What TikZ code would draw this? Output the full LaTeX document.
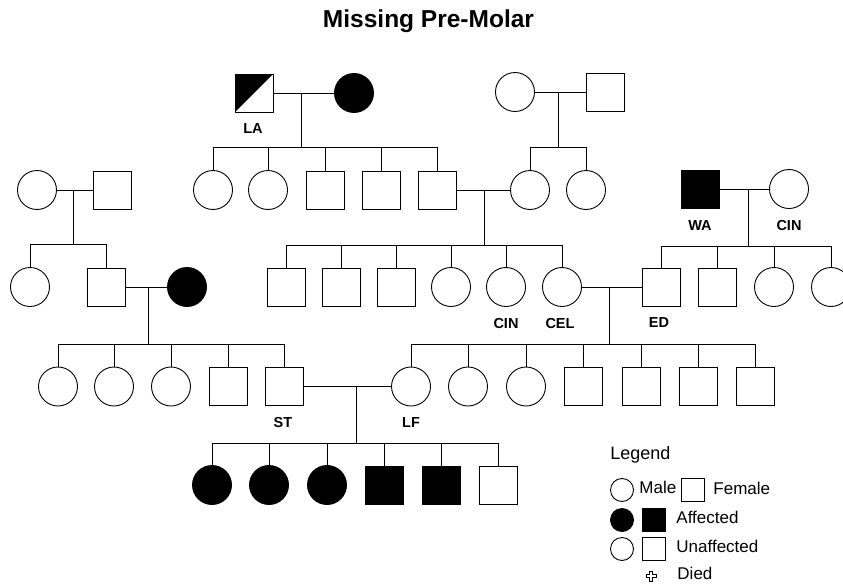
\documentclass[tikz,border=0pt]{standalone}
\usepackage{fontspec}
\setmainfont{Liberation Sans}
\begin{document}
\begin{tikzpicture}[x=1pt,y=-1pt,line width=0.9pt,
  sq/.style={draw,rectangle,minimum size=38pt,inner sep=0pt},
  sqf/.style={sq,fill=black},
  ci/.style={draw,circle,minimum size=39pt,inner sep=0pt},
  cif/.style={ci,fill=black},
  lsq/.style={draw,rectangle,minimum size=23.5pt,inner sep=0pt},
  lci/.style={draw,circle,minimum size=23pt,inner sep=0pt},
  lbl/.style={font=\fontsize{14.5}{17}\selectfont\bfseries,inner sep=0pt},
  leg/.style={font=\fontsize{17}{20}\selectfont,inner sep=0pt,anchor=base west},
  half/.style={sq,path picture={\fill[black] (path picture bounding box.north west) -- (path picture bounding box.north east) -- (path picture bounding box.south west) -- cycle;}}]
\useasboundingbox (0,0) rectangle (843,586);

% title
\node[font=\fontsize{24.5}{28}\selectfont\bfseries,anchor=base,inner sep=0pt] (title) at (428.5,28) {Missing Pre-Molar};

% generation 1
\node[half] (LA) at (254,93) {};
\node[cif] (LAw) at (354,93) {};
\node[lbl] (tLA) at (253,129) {LA};
\coordinate (m1) at (301,93);
\node[ci] (g1c) at (515,92) {};
\node[sq] (g1s) at (605,92) {};
\coordinate (m2) at (558,92);
\node[ci] (L1c) at (37,190) {};
\node[sq] (L1s) at (112,190) {};
\coordinate (m3) at (73,190);
\node[sqf] (WA) at (700,189) {};
\node[ci] (WAw) at (789,189) {};
\coordinate (m4) at (748,189);
\node[lbl] (tWA) at (700,226) {WA};
\node[lbl] (tCIN1) at (789,226) {CIN};

\draw (LA.east) -- (LAw.west);
\draw (g1c.east) -- (g1s.west);
\draw (L1c.east) -- (L1s.west);
\draw (WA.east) -- (WAw.west);

% LA children
\coordinate (s1) at (301,147);
\node[ci] (a1) at (213,190) {};
\node[ci] (a2) at (268,190) {};
\node[sq] (a3) at (325,190) {};
\node[sq] (a4) at (381,190) {};
\node[sq] (a5) at (437,190) {};
\draw (m1) -- (s1);
\draw (a1.north |- s1) -- (a5.north |- s1);
\foreach \n in {a1,a2,a3,a4,a5} \draw (\n.north) -- (\n.north |- s1);

% right top children
\coordinate (s2) at (558,147);
\node[ci] (b1) at (530,190) {};
\node[ci] (b2) at (586,190) {};
\draw (m2) -- (s2);
\draw (b1.north |- s2) -- (b2.north |- s2);
\foreach \n in {b1,b2} \draw (\n.north) -- (\n.north |- s2);

% a5 x b1
\draw (a5.east) -- (b1.west);
\coordinate (m5) at (484,190);
\coordinate (s5) at (484,245);
\draw (m5) -- (s5);
\node[sq] (c1) at (286,287) {};
\node[sq] (c2) at (341,287) {};
\node[sq] (c3) at (396,287) {};
\node[ci] (c4) at (451,287) {};
\node[ci] (c5) at (506,287) {};
\node[ci] (c6) at (562,287) {};
\node[lbl] (tCIN2) at (506,324) {CIN};
\node[lbl] (tCEL) at (560,324) {CEL};
\draw (c1.north |- s5) -- (c6.north |- s5);
\foreach \n in {c1,c2,c3,c4,c5,c6} \draw (\n.north) -- (\n.north |- s5);

% left family children
\coordinate (s3) at (73,244);
\draw (m3) -- (s3);
\node[ci] (d1) at (30,287) {};
\node[sq] (d2) at (106,287) {};
\node[cif] (d2w) at (187,287) {};
\draw (d1.north |- s3) -- (d2.north |- s3);
\foreach \n in {d1,d2} \draw (\n.north) -- (\n.north |- s3);
\draw (d2.east) -- (d2w.west);

% WA children
\coordinate (s4) at (748,246);
\draw (m4) -- (s4);
\node[sq] (e1) at (661,287) {};
\node[sq] (e2) at (717,287) {};
\node[ci] (e3) at (774,287) {};
\node[ci] (e4) at (831,287) {};
\node[lbl] (tED) at (659,323) {ED};
\draw (e1.north |- s4) -- (e4.north |- s4);
\foreach \n in {e1,e2,e3,e4} \draw (\n.north) -- (\n.north |- s4);

% CEL x ED
\draw (c6.east) -- (e1.west);
\coordinate (m6) at (609,287);
\coordinate (s6) at (609,344);
\draw (m6) -- (s6);
\node[ci] (f1) at (411,386.5) {};
\node[ci] (f2) at (468,386.5) {};
\node[ci] (f3) at (526,386.5) {};
\node[sq] (f4) at (583,386.5) {};
\node[sq] (f5) at (641,386.5) {};
\node[sq] (f6) at (698,386.5) {};
\node[sq] (f7) at (755,386.5) {};
\draw (f1.north |- s6) -- (f7.north |- s6);
\foreach \n in {f1,f2,f3,f4,f5,f6,f7} \draw (\n.north) -- (\n.north |- s6);

% d2 x d2w children
\coordinate (m7) at (148,287);
\coordinate (s7) at (148,344);
\draw (m7) -- (s7);
\node[ci] (g1) at (58,386.5) {};
\node[ci] (g2) at (114,386.5) {};
\node[ci] (g3) at (171,386.5) {};
\node[sq] (g4) at (228,386.5) {};
\node[sq] (g5) at (284,386.5) {};
\draw (g1.north |- s7) -- (g5.north |- s7);
\foreach \n in {g1,g2,g3,g4,g5} \draw (\n.north) -- (\n.north |- s7);
\node[lbl] (tST) at (283,423) {ST};
\node[lbl] (tLF) at (411,423) {LF};

% ST x LF
\draw (g5.east) -- (f1.west);
\coordinate (m8) at (356,386.5);
\coordinate (s8) at (356,443);
\draw (m8) -- (s8);
\node[cif] (h1) at (212,485) {};
\node[cif] (h2) at (269,485) {};
\node[cif] (h3) at (327,485) {};
\node[sqf] (h4) at (384,485) {};
\node[sqf] (h5) at (441,485) {};
\node[sq] (h6) at (498,485) {};
\draw (h1.north |- s8) -- (h6.north |- s8);
\foreach \n in {h1,h2,h3,h4,h5,h6} \draw (\n.north) -- (\n.north |- s8);

% legend
\node[leg,font=\fontsize{18}{21}\selectfont] (lgT) at (610,459) {Legend};
\node[lci] (lg1) at (622,490) {};
\node[leg] (lgM) at (639,493) {Male};
\node[lsq] (lg2) at (693,490) {};
\node[leg] (lgF) at (713,494) {Female};
\node[lci,fill=black] (lg3) at (622,520) {};
\node[lsq,fill=black] (lg4) at (654,520) {};
\node[leg] (lgA) at (676,523) {Affected};
\node[lci] (lg5) at (622,549) {};
\node[lsq] (lg6) at (654,549) {};
\node[leg] (lgU) at (676,552) {Unaffected};
\draw[line width=0.7pt,shift={(651,576)}] (-1.6,-5) -- (1.6,-5) -- (1.6,-1.6) -- (5,-1.6) -- (5,1.6) -- (1.6,1.6) -- (1.6,5) -- (-1.6,5) -- (-1.6,1.6) -- (-5,1.6) -- (-5,-1.6) -- (-1.6,-1.6) -- cycle;
\node[leg] (lgD) at (677,579) {Died};
\end{tikzpicture}
\end{document}
